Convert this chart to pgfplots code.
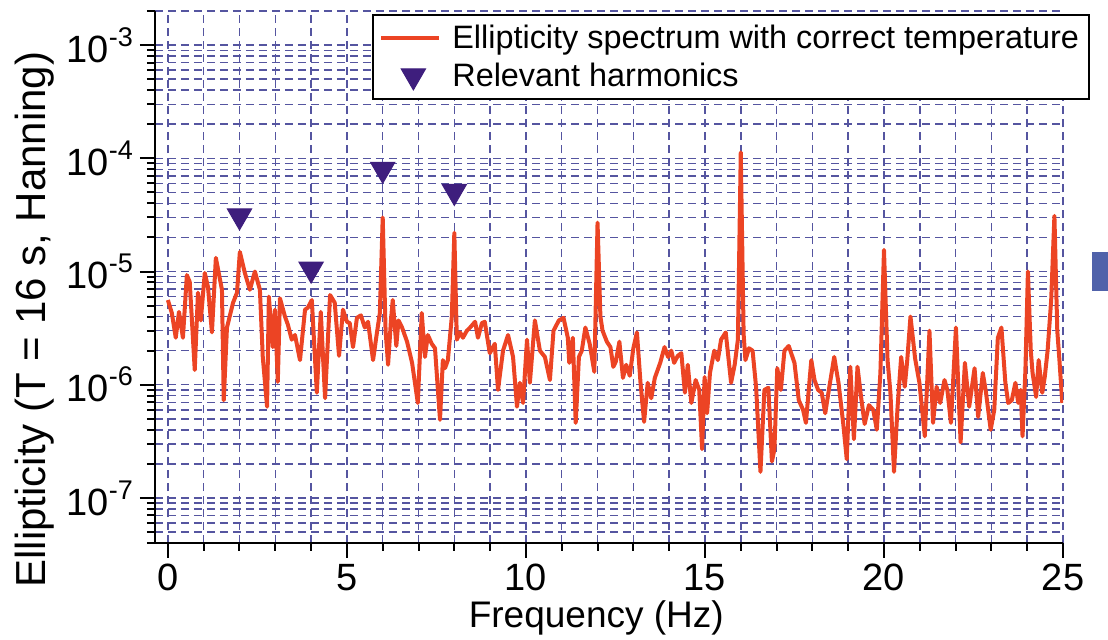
\documentclass[border=0pt]{standalone}
\usepackage{fontspec}
\setmainfont{Liberation Sans}
\usepackage{pgfplots}
\pgfplotsset{compat=1.18}
\definecolor{specred}{RGB}{236,68,36}
\definecolor{harm}{RGB}{62,30,125}
\definecolor{gridc}{RGB}{85,85,160}
\definecolor{blk}{RGB}{80,98,170}
\newcommand{\tenpow}[1]{10\raisebox{0.42em}{\fontsize{13.5pt}{13.5pt}\selectfont #1}}
\pgfplotsset{
  mylineleg/.style={legend image code/.code={\draw[##1] (0pt,0pt) -- (29pt,0pt); \path (32.5pt,0pt);}},
  mymarkleg/.style={legend image code/.code={\draw[mark repeat=2,mark phase=2,##1] plot coordinates {(0pt,0pt) (16pt,0pt) (32pt,0pt)}; \path (32.5pt,0pt);}},
}
\begin{document}
\begin{tikzpicture}
\useasboundingbox (-77.5pt,-48.5pt) rectangle (476.5pt,271.5pt);
\begin{axis}[
  at={(0pt,0pt)}, anchor=south west,
  scale only axis, width=454pt, height=266pt,
  xmin=-0.36, xmax=25, ymin=4e-8, ymax=2e-3,
  ymode=log,
  axis x line*=bottom, axis y line*=left,
  axis line style={line width=1pt, -},
  xtick={0,5,10,15,20,25}, xticklabels={0,5,10,15,20,25},
  minor xtick={0,1,...,25},
  ytick={1e-7,1e-6,1e-5,1e-4,1e-3},
  yticklabels={\tenpow{-7},\tenpow{-6},\tenpow{-5},\tenpow{-4},\tenpow{-3}},
  minor ytick={4e-8,5e-8,6e-8,7e-8,8e-8,9e-8,
    2e-7,3e-7,4e-7,5e-7,6e-7,7e-7,8e-7,9e-7,
    2e-6,3e-6,4e-6,5e-6,6e-6,7e-6,8e-6,9e-6,
    2e-5,3e-5,4e-5,5e-5,6e-5,7e-5,8e-5,9e-5,
    2e-4,3e-4,4e-4,5e-4,6e-4,7e-4,8e-4,9e-4,2e-3},
  tick align=outside,
  major tick length=7.5pt, minor tick length=4pt,
  every tick/.style={black, line width=1pt},
  grid=both,
  major grid style={gridc, line width=0.75pt, dash pattern=on 4pt off 2.5pt},
  minor grid style={gridc, line width=0.75pt, dash pattern=on 4pt off 2.5pt},
  tick label style={font=\fontsize{19pt}{22pt}\selectfont},
  xticklabel style={inner ysep=1pt, yshift=-2pt},
  xlabel={Frequency (Hz)},
  xlabel style={at={(axis description cs:0.486,-0.141)}, anchor=center, inner sep=0pt, font=\fontsize{18.5pt}{21pt}\selectfont},
  ylabel={Ellipticity (T = 16 s, Hanning)},
  ylabel style={at={(axis description cs:-0.132,0.42)}, anchor=center, inner sep=0pt, font=\fontsize{21pt}{24pt}\selectfont},
  legend style={at={(axis description cs:1.0297,0.994)}, anchor=north east, draw=black, line width=1pt,
    font=\fontsize{16.2pt}{18pt}\selectfont, inner xsep=3pt, inner ysep=2.5pt, row sep=0.5pt,
    nodes={inner ysep=2.5pt}},
  legend cell align=left,
]
\addplot[specred, line width=2pt, line join=round, mark=none, mylineleg]
 table[row sep=\\] {
x y\\
0.00 5.6e-6\\ 0.11 4.3e-6\\ 0.22 2.6e-6\\ 0.31 4.4e-6\\ 0.42 2.6e-6\\
0.53 9.3e-6\\ 0.61 8.1e-6\\ 0.75 1.35e-6\\ 0.84 6.5e-6\\ 0.92 3.7e-6\\
1.03 9.7e-6\\ 1.12 7.3e-6\\ 1.23 2.9e-6\\ 1.34 1.32e-5\\ 1.51 6.9e-6\\
1.56 7.3e-7\\ 1.65 3.2e-6\\ 1.82 5.3e-6\\ 1.93 6.5e-6\\ 2.01 1.49e-5\\
2.15 9.7e-6\\ 2.29 6.9e-6\\ 2.43 1.0e-5\\ 2.57 6.9e-6\\ 2.65 1.76e-6\\
2.77 6.4e-7\\ 2.82 6.0e-6\\ 2.93 2.15e-6\\ 2.99 4.6e-6\\ 3.07 1.06e-6\\
3.13 5.8e-6\\ 3.27 4.0e-6\\ 3.35 3.4e-6\\ 3.46 2.5e-6\\ 3.55 2.75e-6\\
3.69 1.65e-6\\ 3.83 4.6e-6\\ 3.91 4.8e-6\\ 4.02 5.6e-6\\ 4.16 8.5e-7\\
4.27 4.4e-6\\ 4.39 7.6e-7\\ 4.53 6.2e-6\\ 4.66 5.3e-6\\ 4.78 1.8e-6\\
4.89 4.6e-6\\ 5.00 3.6e-6\\ 5.08 3.5e-6\\ 5.17 2.15e-6\\ 5.28 3.9e-6\\
5.39 4.1e-6\\ 5.50 3.2e-6\\ 5.59 3.6e-6\\ 5.73 1.65e-6\\ 5.84 2.9e-6\\
5.92 4.3e-6\\ 6.00 3.0e-5\\ 6.08 3.0e-6\\ 6.15 1.5e-6\\ 6.23 3.7e-6\\
6.28 5.6e-6\\ 6.38 2.2e-6\\ 6.44 3.7e-6\\ 6.54 3.2e-6\\ 6.68 2.4e-6\\
6.82 1.56e-6\\ 6.90 1.04e-6\\ 6.98 6.9e-7\\ 7.09 4.3e-6\\ 7.18 1.76e-6\\
7.26 2.75e-6\\ 7.37 2.3e-6\\ 7.46 2.1e-6\\ 7.60 4.9e-7\\ 7.68 1.65e-6\\
7.74 1.4e-6\\ 7.82 1.65e-6\\ 7.93 4.0e-6\\ 8.00 2.2e-5\\ 8.07 2.5e-6\\
8.16 2.9e-6\\ 8.24 2.6e-6\\ 8.35 3.0e-6\\ 8.44 3.2e-6\\ 8.58 3.6e-6\\
8.66 2.6e-6\\ 8.77 3.5e-6\\ 8.85 3.6e-6\\ 8.99 1.9e-6\\ 9.13 2.3e-6\\
9.22 9.0e-7\\ 9.36 2.0e-6\\ 9.50 2.75e-6\\ 9.64 1.76e-6\\ 9.75 6.4e-7\\
9.83 1.04e-6\\ 9.92 6.9e-7\\ 10.03 2.5e-6\\ 10.11 1.04e-6\\ 10.25 3.7e-6\\
10.39 2.0e-6\\ 10.53 1.76e-6\\ 10.67 1.1e-6\\ 10.77 3.0e-6\\ 10.92 3.7e-6\\
11.05 3.9e-6\\ 11.17 2.6e-6\\ 11.21 1.56e-6\\ 11.31 2.6e-6\\ 11.39 4.6e-7\\
11.48 1.76e-6\\ 11.56 2.0e-6\\ 11.66 3.2e-6\\ 11.78 2.3e-6\\ 11.91 1.3e-6\\
12.00 2.7e-5\\ 12.08 4.0e-6\\ 12.14 3.0e-6\\ 12.26 2.4e-6\\ 12.36 2.15e-6\\
12.44 1.44e-6\\ 12.51 1.6e-6\\ 12.61 2.4e-6\\ 12.71 1.15e-6\\ 12.80 1.5e-6\\
12.90 1.2e-6\\ 13.00 2.1e-6\\ 13.10 2.9e-6\\ 13.20 1.04e-6\\ 13.30 4.7e-7\\
13.40 1.04e-6\\ 13.50 7.6e-7\\ 13.60 1.15e-6\\ 13.75 1.56e-6\\ 13.87 2.15e-6\\
13.97 1.76e-6\\ 14.06 2.0e-6\\ 14.14 1.56e-6\\ 14.24 1.8e-6\\ 14.34 1.9e-6\\
14.44 8.5e-7\\ 14.52 1.5e-6\\ 14.62 6.9e-7\\ 14.74 1.1e-6\\ 14.84 9.0e-7\\
14.92 2.7e-7\\ 14.99 1.17e-6\\ 15.06 5.6e-7\\ 15.14 1.27e-6\\ 15.26 2.0e-6\\
15.36 1.65e-6\\ 15.45 2.5e-6\\ 15.58 2.9e-6\\ 15.73 1.04e-6\\ 15.83 1.5e-6\\
15.92 2.5e-6\\ 16.00 1.13e-4\\ 16.08 2.8e-6\\ 16.13 1.65e-6\\ 16.23 2.1e-6\\
16.33 2.0e-6\\ 16.43 9.4e-7\\ 16.55 1.7e-7\\ 16.66 9.0e-7\\ 16.77 9.4e-7\\
16.87 2.1e-7\\ 16.94 2.7e-7\\ 17.02 1.4e-6\\ 17.12 9.0e-7\\ 17.22 2.0e-6\\
17.34 2.2e-6\\ 17.50 1.56e-6\\ 17.62 7.3e-7\\ 17.74 6.0e-7\\ 17.82 4.6e-7\\
17.97 1.65e-6\\ 18.06 1.1e-6\\ 18.16 9.0e-7\\ 18.26 8.5e-7\\ 18.36 5.6e-7\\
18.46 9.0e-7\\ 18.61 1.76e-6\\ 18.73 1.04e-6\\ 18.86 4.6e-7\\ 18.96 2.2e-7\\
19.06 1.44e-6\\ 19.16 3.3e-7\\ 19.26 1.44e-6\\ 19.36 7.8e-7\\ 19.46 4.5e-7\\
19.58 6.6e-7\\ 19.70 6.0e-7\\ 19.80 4.0e-7\\ 19.90 1.27e-6\\ 20.00 1.55e-5\\
20.10 1.65e-6\\ 20.18 8.5e-7\\ 20.28 1.7e-7\\ 20.38 6.4e-7\\ 20.48 1.76e-6\\
20.58 9.6e-7\\ 20.65 1.65e-6\\ 20.74 4.0e-6\\ 20.87 1.7e-6\\ 20.99 1.04e-6\\
21.14 3.5e-7\\ 21.27 3.0e-6\\ 21.37 4.6e-7\\ 21.47 9.6e-7\\ 21.57 6.9e-7\\
21.69 1.1e-6\\ 21.77 9.0e-7\\ 21.87 4.6e-7\\ 22.01 3.2e-6\\ 22.14 3.1e-7\\
22.26 1.56e-6\\ 22.38 6.4e-7\\ 22.53 1.4e-6\\ 22.63 5.2e-7\\ 22.76 1.27e-6\\
22.85 8.5e-7\\ 22.98 4.0e-7\\ 23.08 6.0e-7\\ 23.18 2.6e-6\\ 23.28 3.2e-6\\
23.39 1.04e-6\\ 23.47 6.9e-7\\ 23.57 7.3e-7\\ 23.67 1.04e-6\\ 23.75 6.9e-7\\
23.82 9.0e-7\\ 23.87 3.5e-7\\ 23.95 1.35e-6\\ 24.02 1.0e-5\\ 24.10 2.0e-6\\
24.15 1.27e-6\\ 24.25 7.8e-7\\ 24.32 1.65e-6\\ 24.42 8.5e-7\\ 24.49 1.17e-6\\
24.57 2.0e-6\\ 24.67 5.6e-6\\ 24.76 3.1e-5\\ 24.84 3.0e-6\\ 24.90 1.65e-6\\
24.98 6.9e-7\\
};
\addlegendentry{Ellipticity spectrum with correct temperature}
\addplot[only marks, mark=triangle*, mark size=7pt, harm,
  mark options={rotate=180, fill=harm, draw=harm, line width=0.5pt}, mymarkleg]
 coordinates {(2,3.1e-5) (4,1.05e-5) (6,8.0e-5) (8,5.1e-5)};
\addlegendentry{Relevant harmonics}
\end{axis}
\fill[blk] (468.5pt,126pt) rectangle (476.5pt,145.5pt);
\end{tikzpicture}
\end{document}
